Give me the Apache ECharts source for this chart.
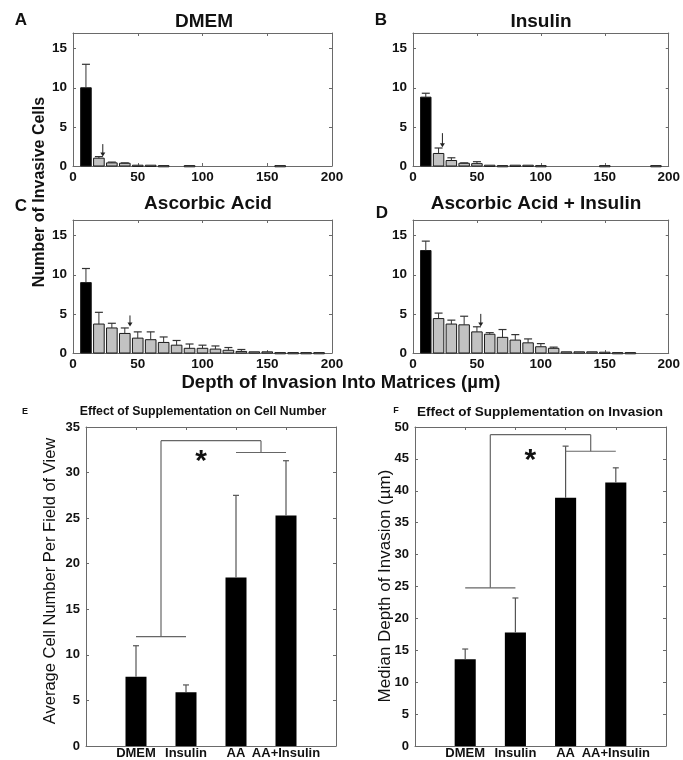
<!DOCTYPE html>
<html>
<head>
<meta charset="utf-8">
<script src="https://cdn.jsdelivr.net/npm/echarts@6/dist/echarts.min.js"></script>
<style>html,body{margin:0;padding:0;background:#fff}#c{width:683px;height:760px}</style>
</head>
<body>
<div id="c"></div>
<script>
// ---------- DATA ----------
const depthBins = [10,20,30,40,50,60,70,80,90,100,110,120,130,140,150,160,170,180,190];
const dmemCounts    = [10.0,1.0,0.4,0.35,0.1,0.1,0.05,0,0.05,0,0,0,0,0,0,0.05,0,0,0];
const dmemErr       = [3.0,0.2,0.1,0.05,0,0,0,0,0,0,0,0,0,0,0,0,0,0,0];
const insulinCounts = [8.8,1.6,0.7,0.35,0.3,0.1,0.05,0.1,0.1,0.05,0,0,0,0,0.05,0,0,0,0.05];
const insulinErr    = [0.5,0.7,0.35,0.05,0.25,0,0,0,0,0,0,0,0,0,0,0,0,0,0];
const aaCounts      = [9.0,3.7,3.2,2.5,1.9,1.7,1.35,1.0,0.6,0.6,0.5,0.35,0.2,0.15,0.15,0.05,0.05,0.05,0.05];
const aaErr         = [1.8,1.5,0.6,0.7,0.8,1.0,0.7,0.6,0.55,0.4,0.4,0.35,0.25,0,0,0,0,0,0];
const aaInsCounts   = [13.1,4.4,3.7,3.6,2.7,2.4,2.0,1.65,1.3,0.8,0.6,0.15,0.15,0.15,0.1,0.05,0.05,0,0];
const aaInsErr      = [1.2,0.7,0.5,1.1,0.65,0.2,1.0,0.7,0.5,0.4,0.15,0,0,0,0,0,0,0,0];
// median arrows: [depth, arrow top, arrow tip]
const dmemArrow    = [23, 2.8, 1.2];
const insulinArrow = [23, 4.2, 2.4];
const aaArrow      = [44, 4.8, 3.4];
const aaInsArrow   = [53, 5.0, 3.4];
const histTitles = ['DMEM', 'Insulin', 'Ascorbic Acid', 'Ascorbic Acid + Insulin'];
const histLetters = ['A', 'B', 'C', 'D'];
const histYTicks = [0, 5, 10, 15];
const histXTicks = [0, 50, 100, 150, 200];

const treatments = ['DMEM', 'Insulin', 'AA', 'AA+Insulin'];
const cellNumber    = [7.6, 5.9, 18.5, 25.3];
const cellNumberErr = [3.4, 0.8, 9.0, 6.0];
const medianDepth    = [13.6, 17.8, 38.9, 41.3];
const medianDepthErr = [1.6, 5.4, 8.1, 2.3];
// brackets: [left group level, top level, right group level, star level]
const cellBracket  = [12.0, 33.5, 32.2, 31.9];
const depthBracket = [24.8, 48.8, 46.2, 45.6];

// ---------- LAYOUT ----------
const FONT = '"Liberation Sans", Arial, Helvetica, sans-serif';
const grids = [
  {left: 73,  top: 33,  width: 259, height: 133},
  {left: 413, top: 33,  width: 259, height: 133},
  {left: 73,  top: 220, width: 259, height: 133},
  {left: 413, top: 220, width: 259, height: 133},
  {left: 86,  top: 427, width: 250, height: 321},
  {left: 415, top: 427, width: 251, height: 321}
];
const AX = '#6a6a6a';
const TXT = '#111';

function axisCommon(extra) {
  return Object.assign({
    axisLine: {show: true, onZero: false, lineStyle: {color: AX, width: 1}},
    axisTick: {show: true, inside: true, length: 3, lineStyle: {color: AX}},
    splitLine: {show: false},
    axisLabel: {color: TXT, fontFamily: FONT, fontWeight: 'bold', fontSize: 13}
  }, extra);
}

const xAxes = [], yAxes = [];
function addAxes(gi, xmin, xmax, xint, ymin, ymax, yint, xFmt, yFmt, xMargin, yMargin, fs) {
  xAxes.push(axisCommon({type: 'value', gridIndex: gi, min: xmin, max: xmax, interval: xint, position: 'bottom',
    axisLabel: {color: TXT, fontFamily: FONT, fontWeight: 'bold', fontSize: fs, margin: xMargin, formatter: xFmt, showMinLabel: true, showMaxLabel: true}}));
  xAxes.push(axisCommon({type: 'value', gridIndex: gi, min: xmin, max: xmax, interval: xint, position: 'top', axisLabel: {show: false}}));
  yAxes.push(axisCommon({type: 'value', gridIndex: gi, min: ymin, max: ymax, interval: yint, position: 'left',
    axisLabel: {color: TXT, fontFamily: FONT, fontWeight: 'bold', fontSize: fs, margin: yMargin, formatter: yFmt}}));
  yAxes.push(axisCommon({type: 'value', gridIndex: gi, min: ymin, max: ymax, interval: yint, position: 'right', axisLabel: {show: false}}));
}

const series = [];
const histCounts = [dmemCounts, insulinCounts, aaCounts, aaInsCounts];
const histErrs = [dmemErr, insulinErr, aaErr, aaInsErr];
const histArrows = [dmemArrow, insulinArrow, aaArrow, aaInsArrow];

for (let i = 0; i < 4; i++) {
  addAxes(i, 0, 200, 50, 0, 17, 5,
    v => (histXTicks.indexOf(v) >= 0 ? String(v) : ''),
    v => (histYTicks.indexOf(v) >= 0 ? String(v) : ''), 4, 6, 13.5);
  const data = depthBins.map((b, k) => [b, histCounts[i][k], histErrs[i][k]]);
  series.push({
    type: 'custom', xAxisIndex: 2 * i, yAxisIndex: 2 * i, data: data, clip: false,
    renderItem: function (params, api) {
      const x = api.value(0), v = api.value(1), e = api.value(2);
      if (!v) return null;
      const p0 = api.coord([x - 4.1, v]);
      const p1 = api.coord([x + 4.1, 0]);
      const children = [{
        type: 'rect',
        shape: {x: p0[0], y: p0[1], width: p1[0] - p0[0], height: Math.max(p1[1] - p0[1], 1.2)},
        style: {fill: params.dataIndex === 0 ? '#000' : '#c2c2c2', stroke: '#1a1a1a', lineWidth: 1}
      }];
      if (e > 0) {
        const a = api.coord([x, v]), b = api.coord([x, v + e]);
        children.push({type: 'line', shape: {x1: a[0], y1: a[1], x2: b[0], y2: b[1]}, style: {stroke: '#333', lineWidth: 1}});
        children.push({type: 'line', shape: {x1: b[0] - 4, y1: b[1], x2: b[0] + 4, y2: b[1]}, style: {stroke: '#333', lineWidth: 1.2}});
      }
      return {type: 'group', children: children};
    }
  });
  series.push({
    type: 'custom', xAxisIndex: 2 * i, yAxisIndex: 2 * i, data: [histArrows[i]], clip: false,
    renderItem: function (params, api) {
      const t = api.coord([api.value(0), api.value(1)]);
      const b = api.coord([api.value(0), api.value(2)]);
      return {type: 'group', children: [
        {type: 'line', shape: {x1: t[0], y1: t[1], x2: b[0], y2: b[1] - 3}, style: {stroke: '#222', lineWidth: 1}},
        {type: 'polygon', shape: {points: [[b[0] - 2.5, b[1] - 4], [b[0] + 2.5, b[1] - 4], [b[0], b[1]]]}, style: {fill: '#222'}}
      ]};
    }
  });
}

const sumValues = [cellNumber, medianDepth];
const sumErrs = [cellNumberErr, medianDepthErr];
const sumBrackets = [cellBracket, depthBracket];
const sumMax = [35, 50];
for (let j = 0; j < 2; j++) {
  const gi = 4 + j;
  addAxes(gi, 0, 5, 1, 0, sumMax[j], 5,
    v => (v >= 1 && v <= 4 ? treatments[v - 1] : ''),
    v => String(v), 1, 6, 13);
  const data = treatments.map((t, k) => [k + 1, sumValues[j][k], sumErrs[j][k]]);
  series.push({
    type: 'custom', xAxisIndex: 2 * gi, yAxisIndex: 2 * gi, data: data, clip: false,
    renderItem: function (params, api) {
      const x = api.value(0), v = api.value(1), e = api.value(2);
      const p0 = api.coord([x - 0.21, v]);
      const p1 = api.coord([x + 0.21, 0]);
      const a = api.coord([x, v]), b = api.coord([x, v + e]);
      return {type: 'group', children: [
        {type: 'rect', shape: {x: p0[0], y: p0[1], width: p1[0] - p0[0], height: p1[1] - p0[1]}, style: {fill: '#000'}},
        {type: 'line', shape: {x1: a[0], y1: a[1], x2: b[0], y2: b[1]}, style: {stroke: '#555', lineWidth: 1.2}},
        {type: 'line', shape: {x1: b[0] - 3, y1: b[1], x2: b[0] + 3, y2: b[1]}, style: {stroke: '#555', lineWidth: 1.2}}
      ]};
    }
  });
  series.push({
    type: 'custom', xAxisIndex: 2 * gi, yAxisIndex: 2 * gi, data: [sumBrackets[j]], clip: false,
    renderItem: function (params, api) {
      const lo = api.value(0), hi = api.value(1), rt = api.value(2), st = api.value(3);
      const segs = [
        [[1, lo], [2, lo]], [[1.5, lo], [1.5, hi]], [[1.5, hi], [3.5, hi]],
        [[3.5, hi], [3.5, rt]], [[3, rt], [4, rt]]
      ];
      const children = segs.map(s => {
        const a = api.coord(s[0]), b = api.coord(s[1]);
        return {type: 'line', shape: {x1: a[0], y1: a[1], x2: b[0], y2: b[1]}, style: {stroke: '#666', lineWidth: 1.2}};
      });
      const sp = api.coord([2.3, st]);
      children.push({type: 'text', x: sp[0], y: sp[1] + 6, style: {text: '*', font: 'bold 30px ' + FONT, fill: '#111', align: 'center', verticalAlign: 'middle'}});
      return {type: 'group', children: children};
    }
  });
}

// ---------- TEXT ----------
function txt(text, x, y, font, rot) {
  return {type: 'text', x: x, y: y, rotation: rot || 0,
    style: {text: text, font: font, fill: TXT, align: 'center', verticalAlign: 'middle'}};
}
const titlePos = [[204, 22], [541, 22], [208, 204], [536, 204]];
const letterPos = [[21, 20], [381, 20], [21, 206], [382, 213]];
const graphics = [];
for (let i = 0; i < 4; i++) {
  graphics.push(txt(histTitles[i], titlePos[i][0], titlePos[i][1], 'bold 19px ' + FONT));
  graphics.push(txt(histLetters[i], letterPos[i][0], letterPos[i][1], 'bold 17px ' + FONT));
}
graphics.push(txt('Number of Invasive Cells', 40, 192, 'bold 16px ' + FONT, Math.PI / 2));
graphics.push(txt('Depth of Invasion Into Matrices (\u00b5m)', 341, 383, 'bold 18.5px ' + FONT));
graphics.push(txt('E', 25, 412, 'bold 9px ' + FONT));
graphics.push(txt('F', 396, 411, 'bold 9px ' + FONT));
graphics.push(txt('Effect of Supplementation on Cell Number', 203, 412, 'bold 12.3px ' + FONT));
graphics.push(txt('Effect of Supplementation on Invasion', 540, 412, 'bold 13.5px ' + FONT));
graphics.push(txt('Average Cell Number Per Field of View', 50, 581, '16.5px ' + FONT, Math.PI / 2));
graphics.push(txt('Median Depth of Invasion (\u00b5m)', 385, 586, '17px ' + FONT, Math.PI / 2));

const chart = echarts.init(document.getElementById('c'), null, {renderer: 'canvas'});
chart.setOption({
  animation: false,
  backgroundColor: '#fff',
  grid: grids,
  xAxis: xAxes,
  yAxis: yAxes,
  series: series,
  graphic: graphics
});
</script>
</body>
</html>
